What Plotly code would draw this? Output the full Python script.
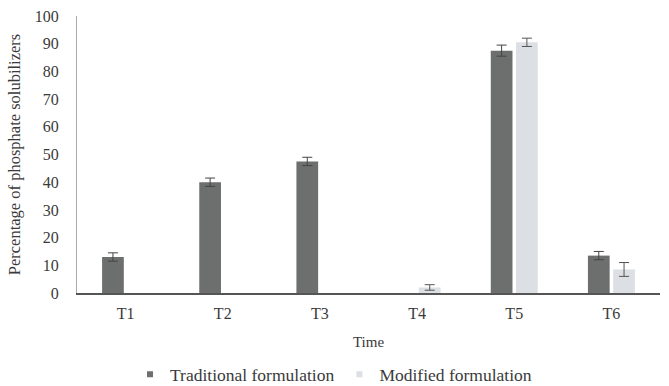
import plotly.graph_objects as go

times = ["T1", "T2", "T3", "T4", "T5", "T6"]
traditional = [13, 40, 47.5, 0, 87.5, 13.5]
traditional_err = [1.5, 1.5, 1.5, 0, 2, 1.5]
modified = [0, 0, 0, 2, 90.5, 8.5]
modified_err = [0, 0, 0, 1, 1.5, 2.5]
y_ticks = [0, 10, 20, 30, 40, 50, 60, 70, 80, 90, 100]

serif = "Liberation Serif"
trad_color = "#6d6e6e"
mod_color = "#dcdfe3"
text_color = "#3a3a3a"


def shown(values):
    # empty groups are left blank so no bar or error cap is drawn for them
    return [v if v > 0 else None for v in values]


fig = go.Figure()
fig.add_trace(go.Bar(
    name="Traditional formulation", x=times, y=shown(traditional), showlegend=False,
    marker=dict(color=trad_color, line=dict(width=0)),
    error_y=dict(type="data", array=traditional_err, color="#444444",
                 thickness=1, width=5, visible=True),
))
fig.add_trace(go.Bar(
    name="Modified formulation", x=times, y=shown(modified), showlegend=False,
    marker=dict(color=mod_color, line=dict(width=0)),
    error_y=dict(type="data", array=modified_err, color="#555555",
                 thickness=1, width=5, visible=True),
))
# small square legend keys
for name, color in [("Traditional formulation", trad_color), ("Modified formulation", mod_color)]:
    fig.add_trace(go.Scatter(
        x=[None], y=[None], mode="markers", name=name,
        marker=dict(symbol="square", size=6, color=color),
    ))

fig.update_layout(
    width=669, height=386,
    margin=dict(l=77, r=9, t=16, b=93),
    paper_bgcolor="white", plot_bgcolor="white",
    barmode="group", bargap=0.48, bargroupgap=0.14,
    font=dict(family=serif, size=15, color=text_color),
    showlegend=True,
    legend=dict(orientation="h", x=0.44, xanchor="center",
                yref="container", y=0.03, yanchor="middle",
                font=dict(family=serif, size=17.5, color=text_color),
                itemwidth=30, tracegroupgap=0),
    xaxis=dict(
        title=dict(text="Time", font=dict(size=15), standoff=16),
        showline=True, linecolor="#555555", linewidth=1.5,
        showgrid=False, ticks="", tickfont=dict(size=16),
        ticklabelstandoff=5, automargin=False,
    ),
    yaxis=dict(
        title=dict(text="Percentage of phosphate solubilizers", font=dict(size=16.5), standoff=10),
        range=[0, 100], tickvals=y_ticks,
        showline=True, linecolor="#aaaaaa", linewidth=1,
        showgrid=False, zeroline=False, ticks="", tickfont=dict(size=16),
        ticklabelstandoff=14, automargin=False,
    ),
)

fig.write_html("out.html")
